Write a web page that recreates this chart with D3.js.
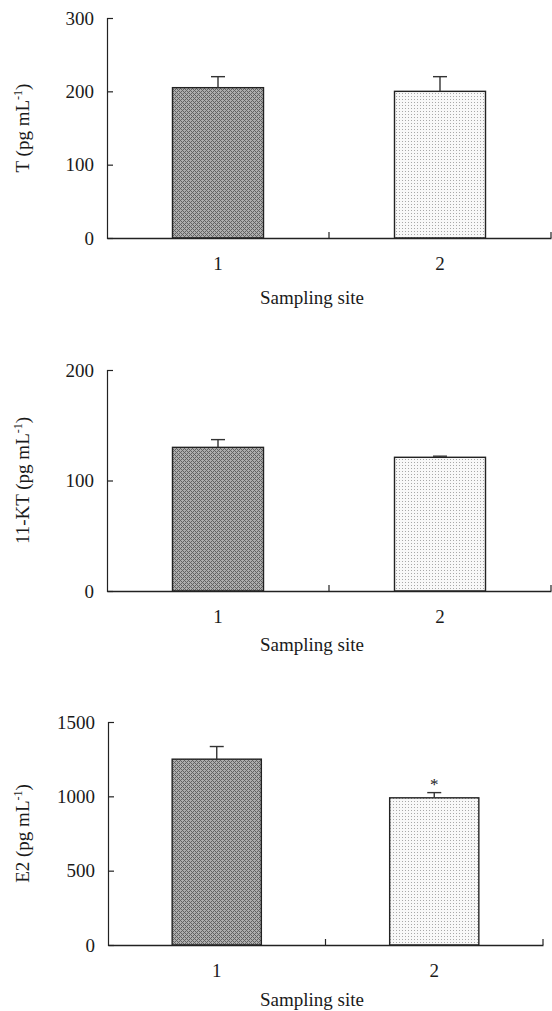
<!DOCTYPE html>
<html>
<head>
<meta charset="utf-8">
<script src="https://cdn.jsdelivr.net/npm/d3@7"></script>
<style>
  body { margin: 0; background: #fff; }
  svg { display: block; }
  text { font-family: "Liberation Serif", "DejaVu Serif", serif; fill: #1a1a1a; }
</style>
</head>
<body>
<svg id="chart" width="552" height="1011"></svg>
<script>
const sites = ["1", "2"];

const tValues = [205, 200];
const tErrors = [15, 20];
const tTicks = [0, 100, 200, 300];

const ktValues = [130, 121];
const ktErrors = [7, 1];
const ktTicks = [0, 100, 200];

const e2Values = [1250, 990];
const e2Errors = [85, 35];
const e2Ticks = [0, 500, 1000, 1500];
const e2Marks = ["", "*"];

const xTitle = "Sampling site";

const svg = d3.select("#chart");

// fill patterns: dark cross-hatch and light stipple
const defs = svg.append("defs");
const dark = defs.append("pattern")
    .attr("id", "dark")
    .attr("patternUnits", "userSpaceOnUse")
    .attr("width", 4).attr("height", 4);
dark.append("rect").attr("width", 4).attr("height", 4).attr("fill", "#adadad");
dark.append("path").attr("d", "M0,0h1v1h-1z M2,2h1v1h-1z M1,1h1v1h-1z M3,3h1v1h-1z M3,1h1v1h-1z M1,3h1v1h-1z")
    .attr("fill", "#626262");

const light = defs.append("pattern")
    .attr("id", "light")
    .attr("patternUnits", "userSpaceOnUse")
    .attr("width", 3).attr("height", 3);
light.append("rect").attr("width", 3).attr("height", 3).attr("fill", "#f8f8f8");
light.append("rect").attr("width", 1).attr("height", 1).attr("fill", "#a8a8a8");

const fills = ["url(#dark)", "url(#light)"];

const panels = [
  {values: tValues, errors: tErrors, ticks: tTicks, label: "T (pg mL", marks: ["", ""],
   left: 107, right: 551, top: 18, bottom: 238, titleY: 304},
  {values: ktValues, errors: ktErrors, ticks: ktTicks, label: "11-KT (pg mL", marks: ["", ""],
   left: 107, right: 551, top: 370, bottom: 591, titleY: 651},
  {values: e2Values, errors: e2Errors, ticks: e2Ticks, label: "E2 (pg mL", marks: e2Marks,
   left: 108, right: 543, top: 722, bottom: 945, titleY: 1006}
];

panels.forEach(p => {
  const g = svg.append("g");

  const x = d3.scaleBand()
      .domain(sites)
      .range([p.left, p.right])
      .paddingInner(0.59)
      .paddingOuter(0.295);

  const y = d3.scaleLinear()
      .domain([0, d3.max(p.ticks)])
      .range([p.bottom, p.top]);

  // bars
  g.selectAll("rect.bar")
    .data(sites)
    .join("rect")
      .attr("class", "bar")
      .attr("x", d => x(d))
      .attr("y", (d, i) => y(p.values[i]))
      .attr("width", x.bandwidth())
      .attr("height", (d, i) => y(0) - y(p.values[i]))
      .attr("fill", (d, i) => fills[i])
      .attr("stroke", "#222")
      .attr("stroke-width", 1.4);

  // error bars (upper only)
  const err = g.selectAll("g.err")
    .data(sites)
    .join("g")
      .attr("class", "err")
      .attr("stroke", "#333")
      .attr("stroke-width", 1.4);
  err.append("line")
      .attr("x1", d => x(d) + x.bandwidth() / 2)
      .attr("x2", d => x(d) + x.bandwidth() / 2)
      .attr("y1", (d, i) => y(p.values[i]))
      .attr("y2", (d, i) => y(p.values[i] + p.errors[i]));
  err.append("line")
      .attr("x1", d => x(d) + x.bandwidth() / 2 - 7)
      .attr("x2", d => x(d) + x.bandwidth() / 2 + 7)
      .attr("y1", (d, i) => y(p.values[i] + p.errors[i]))
      .attr("y2", (d, i) => y(p.values[i] + p.errors[i]));

  // significance marks
  g.selectAll("text.mark")
    .data(sites)
    .join("text")
      .attr("class", "mark")
      .attr("x", d => x(d) + x.bandwidth() / 2)
      .attr("y", (d, i) => y(p.values[i] + p.errors[i]) - 3)
      .attr("text-anchor", "middle")
      .style("font-size", "17px")
      .text((d, i) => p.marks[i]);

  // y axis
  const ya = g.append("g")
      .attr("transform", `translate(${p.left},0)`)
      .call(d3.axisLeft(y).tickValues(p.ticks).tickSize(-6).tickPadding(13).tickFormat(d3.format("d")));
  ya.select(".domain").attr("stroke", "#222").attr("stroke-width", 1.2);
  ya.selectAll(".tick line").attr("stroke", "#222").attr("stroke-width", 1.2);
  ya.selectAll("text").style("font-size", "19px").attr("font-family", null).attr("fill", null);

  // x axis
  const xa = g.append("g")
      .attr("transform", `translate(0,${p.bottom})`)
      .call(d3.axisBottom(x).tickSize(0).tickPadding(19));
  xa.select(".domain").attr("stroke", "#222").attr("stroke-width", 1.4);
  xa.selectAll("text").style("font-size", "19px").attr("font-family", null).attr("fill", null);

  // site boundary ticks on x axis
  g.selectAll("line.bound")
    .data([1, 2])
    .join("line")
      .attr("class", "bound")
      .attr("x1", i => x.range()[0] + i * x.step())
      .attr("x2", i => x.range()[0] + i * x.step())
      .attr("y1", p.bottom)
      .attr("y2", p.bottom - 6)
      .attr("stroke", "#222")
      .attr("stroke-width", 1.2);

  // x title
  g.append("text")
      .attr("x", 312)
      .attr("y", p.titleY)
      .attr("text-anchor", "middle")
      .style("font-size", "19px")
      .text(xTitle);

  // y title
  const yt = g.append("text")
      .attr("transform", `translate(29,${(p.top + p.bottom) / 2}) rotate(-90)`)
      .attr("text-anchor", "middle")
      .style("font-size", "19px");
  yt.append("tspan").text(p.label);
  yt.append("tspan").attr("dy", -7).style("font-size", "12px").text("-1");
  yt.append("tspan").attr("dy", 7).text(")");
});
</script>
</body>
</html>
